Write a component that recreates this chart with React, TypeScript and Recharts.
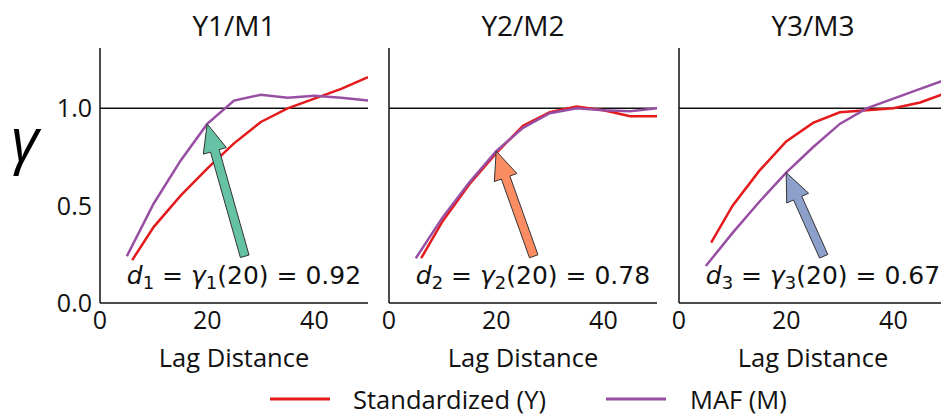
import { LineChart, Line, XAxis, YAxis, ReferenceLine, ReferenceDot } from 'recharts';

// lag distances (x) for the two series
const lagsMaf = [5, 10, 15, 20, 25, 30, 35, 40, 45, 50];
const lagsStd = [6, 10, 15, 20, 25, 30, 35, 40, 45, 50];

// variogram values
const std1 = [0.22, 0.39, 0.55, 0.69, 0.82, 0.93, 1.0, 1.05, 1.1, 1.16];
const maf1 = [0.24, 0.51, 0.73, 0.92, 1.04, 1.07, 1.055, 1.065, 1.055, 1.04];
const std2 = [0.23, 0.42, 0.61, 0.77, 0.91, 0.98, 1.01, 0.99, 0.96, 0.96];
const maf2 = [0.23, 0.44, 0.62, 0.78, 0.9, 0.975, 1.0, 0.99, 0.985, 1.0];
const std3 = [0.31, 0.5, 0.68, 0.83, 0.925, 0.98, 0.99, 1.0, 1.03, 1.08];
const maf3 = [0.19, 0.36, 0.52, 0.67, 0.8, 0.92, 1.0, 1.05, 1.1, 1.15];

const titles = ['Y1/M1', 'Y2/M2', 'Y3/M3'];
const dValues = [0.92, 0.78, 0.67];
const arrowColors = ['#66c2a5', '#fc8d62', '#8da0cb'];
const xTicks = [0, 20, 40];
const yTicks = [0, 0.5, 1.0];
const legendNames = ['Standardized (Y)', 'MAF (M)'];

const RED = '#e41a1c';
const PURPLE = '#984ea3';
const FONT = '"Open Sans", "Noto Sans", sans-serif';

const toRows = (lags: number[], vals: number[]) => lags.map((lag, i) => ({ lag, v: vals[i] }));

const panels = [
  { std: toRows(lagsStd, std1), maf: toRows(lagsMaf, maf1) },
  { std: toRows(lagsStd, std2), maf: toRows(lagsMaf, maf2) },
  { std: toRows(lagsStd, std3), maf: toRows(lagsMaf, maf3) },
];

const axisX = [100, 389, 679];
const PLOT_W = 268;

const makeArrow = (fill: string) => (props: any) => {
  const { x1, y1, x2, y2 } = props;
  const dx = x2 - x1;
  const dy = y2 - y1;
  const len = Math.hypot(dx, dy) || 1;
  const ux = dx / len, uy = dy / len;
  const px = -uy, py = ux;
  const hl = 28, hw = 12, sw = 4.5;
  const bx = x2 - ux * hl, by = y2 - uy * hl;
  const pts = [
    [x1 + px * sw, y1 + py * sw],
    [bx + px * sw, by + py * sw],
    [bx + px * hw, by + py * hw],
    [x2, y2],
    [bx - px * hw, by - py * hw],
    [bx - px * sw, by - py * sw],
    [x1 - px * sw, y1 - py * sw],
  ];
  return <polygon points={pts.map((p) => p.join(',')).join(' ')} fill={fill} stroke="#333" strokeWidth={1} />;
};

const makeNote = (k: number, d: number) => (props: any) => (
  <text x={props.cx} y={props.cy} fontFamily='"DejaVu Sans", sans-serif' fontSize={25} fill="#111">
    <tspan fontStyle="italic">d</tspan>
    <tspan fontSize={18} dy={5}>{k}</tspan>
    <tspan dy={-5}>{' = '}</tspan>
    <tspan fontStyle="italic">γ</tspan>
    <tspan fontSize={18} dy={5}>{k}</tspan>
    <tspan dy={-5}>{`(20) = ${d.toFixed(2)}`}</tspan>
  </text>
);

function Panel({ i }: { i: number }) {
  const first = i === 0;
  const yw = first ? 100 : 10;
  const p = panels[i];
  return (
    <div style={{ position: 'absolute', left: axisX[i] - yw, top: 0 }}>
      <LineChart width={yw + PLOT_W} height={415} margin={{ top: 48, right: 0, bottom: 0, left: 0 }}>
        <XAxis
          type="number"
          dataKey="lag"
          domain={[0, 50]}
          ticks={xTicks}
          height={112}
          tickLine={false}
          tickSize={0}
          tickMargin={8}
          axisLine={{ stroke: '#111', strokeWidth: 1.5 }}
          tick={{ fill: '#111', fontSize: 25, fontFamily: FONT }}
          label={{ value: 'Lag Distance', position: 'insideBottom', offset: 48, fill: '#111', fontSize: 25.5, fontFamily: FONT }}
        />
        <YAxis
          type="number"
          domain={[0, 1.31]}
          ticks={yTicks}
          width={yw}
          tickLine={false}
          tickSize={0}
          tickMargin={8}
          axisLine={{ stroke: '#111', strokeWidth: 1.5 }}
          tick={first ? { fill: '#111', fontSize: 25, fontFamily: FONT } : false}
          tickFormatter={(v: number) => v.toFixed(1)}
          label={
            first
              ? {
                  content: () => (
                    <text x={11} y={161} fontSize={60} fontStyle="italic" fontFamily={FONT} fill="#000">
                      γ
                    </text>
                  ),
                }
              : undefined
          }
        />
        <ReferenceLine y={1} stroke="#111" strokeWidth={1.5} />
        <Line data={p.std} dataKey="v" stroke={RED} strokeWidth={2.5} dot={false} isAnimationActive={false} />
        <Line data={p.maf} dataKey="v" stroke={PURPLE} strokeWidth={2.5} dot={false} isAnimationActive={false} />
        <ReferenceLine
          segment={[{ x: 27, y: 0.24 }, { x: 20, y: dValues[i] }]}
          ifOverflow="visible"
          shape={makeArrow(arrowColors[i])}
        />
        <ReferenceDot x={5} y={0.097} r={0} ifOverflow="visible" shape={makeNote(i + 1, dValues[i])} />
      </LineChart>
    </div>
  );
}

export default function App() {
  return (
    <div style={{ position: 'fixed', left: 0, top: 0, width: 941, height: 415, overflow: 'hidden', background: '#fff' }}>
      {[0, 1, 2].map((i) => (
        <Panel key={i} i={i} />
      ))}
      <svg width={941} height={415} style={{ position: 'absolute', left: 0, top: 0, pointerEvents: 'none' }}>
        {titles.map((t, i) => (
          <text key={t} x={axisX[i] + PLOT_W / 2} y={36} textAnchor="middle" fontSize={28} fontFamily={FONT} fill="#111">
            {t}
          </text>
        ))}
        <line x1={270} y1={399} x2={330} y2={399} stroke={RED} strokeWidth={3} />
        <text x={353} y={409} fontSize={25.5} fontFamily={FONT} fill="#111">{legendNames[0]}</text>
        <line x1={606} y1={399} x2={666} y2={399} stroke={PURPLE} strokeWidth={3} />
        <text x={690} y={409} fontSize={25.5} fontFamily={FONT} fill="#111">{legendNames[1]}</text>
      </svg>
    </div>
  );
}
